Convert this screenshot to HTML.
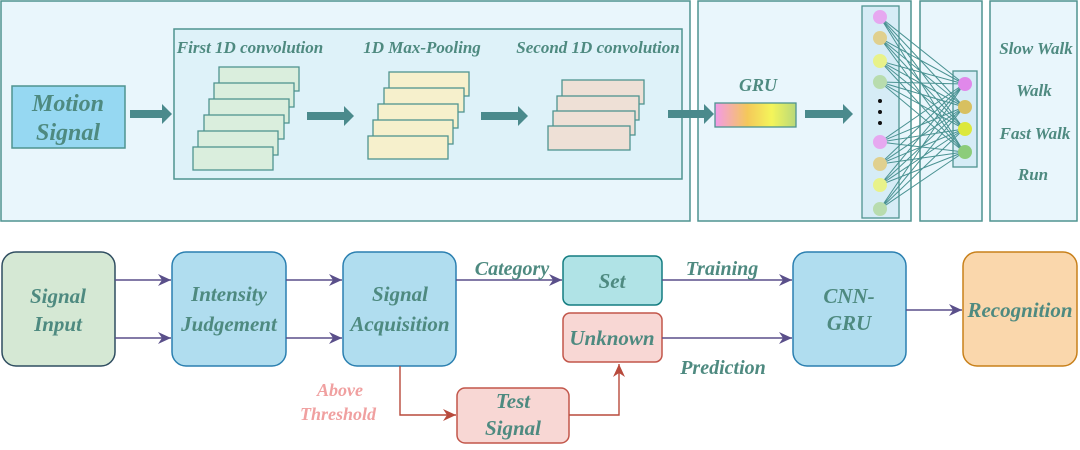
<!DOCTYPE html>
<html><head><meta charset="utf-8"><style>
body{margin:0;width:1080px;height:445px;background:#fff;overflow:hidden}
text{font-family:"Liberation Serif",serif;font-weight:bold;font-style:italic;fill:#4e8a80}
</style></head><body>
<svg width="1080" height="445" viewBox="0 0 1080 445" xmlns="http://www.w3.org/2000/svg">
<defs>
<marker id="ap" markerWidth="14" markerHeight="14" refX="13" refY="6" orient="auto" markerUnits="userSpaceOnUse"><path d="M0,0 L13,6 L0,12 L4,6z" fill="#5a4f8a"/></marker>
<marker id="ar" markerWidth="14" markerHeight="14" refX="13" refY="6" orient="auto" markerUnits="userSpaceOnUse"><path d="M0,0 L13,6 L0,12 L4,6z" fill="#b84a3c"/></marker>
<linearGradient id="g" x1="0" x2="1"><stop offset="0" stop-color="#f39ae8"/><stop offset="0.4" stop-color="#f4c85a"/><stop offset="0.7" stop-color="#f4f55a"/><stop offset="1" stop-color="#b8d87a"/></linearGradient>
</defs>
<g stroke="#4f9490" stroke-width="1.5">
<rect x="1" y="1" width="689" height="220" fill="#e9f6fc"/>
<rect x="698" y="1" width="213" height="220" fill="#e9f6fc"/>
<rect x="920" y="1" width="62" height="220" fill="#e9f6fc"/>
<rect x="990" y="1" width="87" height="220" fill="#e9f6fc"/>
<rect x="174" y="29" width="508" height="150" fill="#def2f9"/>
<rect x="12" y="86" width="113" height="62" fill="#96d8f2"/>
</g>
<text x="68" y="111" font-size="24" text-anchor="middle">Motion</text>
<text x="68" y="140" font-size="24" text-anchor="middle">Signal</text>
<text x="250" y="53" font-size="17" text-anchor="middle">First 1D convolution</text>
<text x="422" y="53" font-size="17" text-anchor="middle">1D Max-Pooling</text>
<text x="598" y="53" font-size="17" text-anchor="middle">Second 1D convolution</text>
<g stroke="#4f9490" stroke-width="1.3" fill="#daeedd">
<rect x="219" y="67" width="80" height="24"/><rect x="214" y="83" width="80" height="24"/><rect x="209" y="99" width="80" height="24"/><rect x="204" y="115" width="80" height="24"/><rect x="198" y="131" width="80" height="24"/><rect x="193" y="147" width="80" height="23"/>
</g>
<g stroke="#4f9490" stroke-width="1.3" fill="#f6f0cc">
<rect x="389" y="72" width="80" height="24"/><rect x="384" y="88" width="80" height="24"/><rect x="378" y="104" width="80" height="24"/><rect x="373" y="120" width="80" height="24"/><rect x="368" y="136" width="80" height="23"/>
</g>
<g stroke="#4f9490" stroke-width="1.3" fill="#eee0d6">
<rect x="562" y="80" width="82" height="24"/><rect x="557" y="96" width="82" height="24"/><rect x="553" y="111" width="82" height="24"/><rect x="548" y="126" width="82" height="24"/>
</g>
<g fill="#4a8a8c">
<path d="M130,110 h32 v-6 l10,10 l-10,10 v-6 h-32z"/>
<path d="M307,112 h37 v-6 l10,10 l-10,10 v-6 h-37z"/>
<path d="M481,112 h37 v-6 l10,10 l-10,10 v-6 h-37z"/>
<path d="M668,110 h36 v-6 l10,10 l-10,10 v-6 h-36z"/>
<path d="M805,110 h38 v-6 l10,10 l-10,10 v-6 h-38z"/>
</g>
<text x="758" y="91" font-size="18" text-anchor="middle">GRU</text>
<rect x="715" y="103" width="81" height="24" fill="url(#g)" stroke="#4f9490" stroke-width="1.3"/>
<rect x="862" y="6" width="37" height="212" fill="#d6ecf6" stroke="#4f9490" stroke-width="1.3"/>
<rect x="953" y="71" width="24" height="96" fill="#d6ecf6" stroke="#4f9490" stroke-width="1.3"/>
<g stroke="#4a9292" stroke-width="1">
<path d="M880,17L964,84M880,17L964,107M880,17L964,129M880,17L964,152M880,38L964,84M880,38L964,107M880,38L964,129M880,38L964,152M880,61L964,84M880,61L964,107M880,61L964,129M880,61L964,152M880,82L964,84M880,82L964,107M880,82L964,129M880,82L964,152M880,142L964,84M880,142L964,107M880,142L964,129M880,142L964,152M880,164L964,84M880,164L964,107M880,164L964,129M880,164L964,152M880,185L964,84M880,185L964,107M880,185L964,129M880,185L964,152M880,209L964,84M880,209L964,107M880,209L964,129M880,209L964,152"/>
</g>
<g>
<circle cx="880" cy="17" r="7" fill="#e6a8f0"/><circle cx="880" cy="38" r="7" fill="#e0d08e"/><circle cx="880" cy="61" r="7" fill="#e8f28a"/><circle cx="880" cy="82" r="7" fill="#b8dcae"/>
<circle cx="880" cy="101" r="2" fill="#111"/><circle cx="880" cy="112" r="2" fill="#111"/><circle cx="880" cy="123" r="2" fill="#111"/>
<circle cx="880" cy="142" r="7" fill="#e6a8f0"/><circle cx="880" cy="164" r="7" fill="#e0d08e"/><circle cx="880" cy="185" r="7" fill="#e8f28a"/><circle cx="880" cy="209" r="7" fill="#b8dcae"/>
<circle cx="965" cy="84" r="7" fill="#e088ea"/><circle cx="965" cy="107" r="7" fill="#d8c060"/><circle cx="965" cy="129" r="7" fill="#dce83c"/><circle cx="965" cy="152" r="7" fill="#8ccc7a"/>
</g>
<text x="1036" y="54" font-size="17" text-anchor="middle">Slow Walk</text>
<text x="1034" y="96" font-size="17" text-anchor="middle">Walk</text>
<text x="1035" y="139" font-size="17" text-anchor="middle">Fast Walk</text>
<text x="1033" y="180" font-size="17" text-anchor="middle">Run</text>

<g stroke-width="1.5">
<rect x="2" y="252" width="113" height="114" rx="14" fill="#d5e8d4" stroke="#2f4d60"/>
<rect x="172" y="252" width="114" height="114" rx="14" fill="#b0ddef" stroke="#2a7fb0"/>
<rect x="343" y="252" width="113" height="114" rx="14" fill="#b0ddef" stroke="#2a7fb0"/>
<rect x="563" y="256" width="99" height="49" rx="7" fill="#b0e3e6" stroke="#137c80"/>
<rect x="563" y="313" width="99" height="49" rx="7" fill="#f8d7d4" stroke="#c2564a"/>
<rect x="457" y="388" width="112" height="55" rx="8" fill="#f8d7d4" stroke="#c2564a"/>
<rect x="793" y="252" width="113" height="114" rx="14" fill="#b0ddef" stroke="#2a7fb0"/>
<rect x="963" y="252" width="114" height="114" rx="14" fill="#fad7ac" stroke="#c8801a"/>
</g>
<g stroke="#5a4f8a" stroke-width="1.6" fill="none" marker-end="url(#ap)">
<path d="M115,280H171"/><path d="M115,338H171"/>
<path d="M286,280H342"/><path d="M286,338H342"/>
<path d="M456,280H562"/>
<path d="M662,280H792"/><path d="M662,338H792"/>
<path d="M906,310H962"/>
</g>
<g stroke="#b84a3c" stroke-width="1.4" fill="none" marker-end="url(#ar)">
<path d="M400,366V415H456"/><path d="M569,415H619V364"/>
</g>
<g font-size="21" text-anchor="middle">
<text x="58" y="303">Signal</text><text x="58" y="331">Input</text>
<text x="229" y="301">Intensity</text><text x="229" y="331">Judgement</text>
<text x="400" y="301">Signal</text><text x="400" y="331">Acquisition</text>
<text x="612" y="288">Set</text><text x="612" y="345">Unknown</text>
<text x="513" y="408">Test</text><text x="513" y="435">Signal</text>
<text x="849" y="303">CNN-</text><text x="849" y="330">GRU</text>
<text x="1020" y="317">Recognition</text>
</g>
<g font-size="20" text-anchor="middle">
<text x="512" y="275">Category</text>
<text x="722" y="275">Training</text>
<text x="723" y="374">Prediction</text>
</g>
<text x="340" y="396" font-size="18" text-anchor="middle" style="fill:#f0a0a0">Above</text>
<text x="338" y="420" font-size="18" text-anchor="middle" style="fill:#f0a0a0">Threshold</text>
</svg>
</body></html>
